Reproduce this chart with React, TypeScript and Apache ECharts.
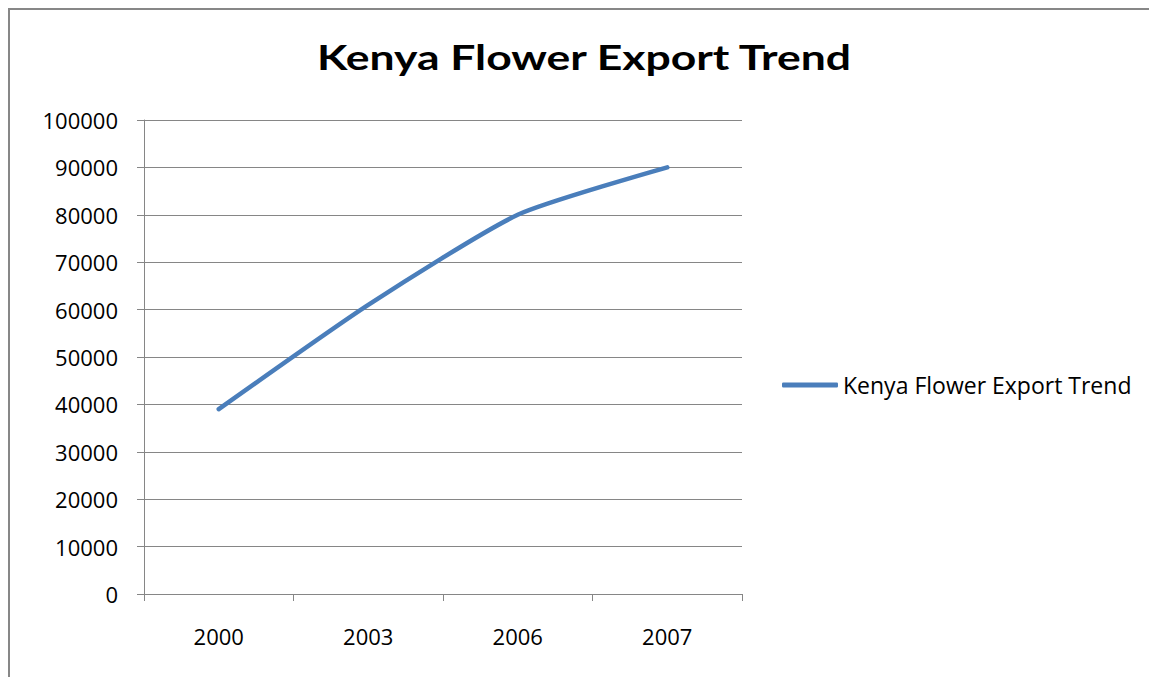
import React, { useEffect, useRef } from "react";
import * as echarts from "echarts";

const years = ["2000", "2003", "2006", "2007"];
const exports = [39000, 61000, 80000, 90000];
const seriesName = "Kenya Flower Export Trend";
const titleText = "Kenya Flower Export Trend";

export default function App() {
  const ref = useRef<HTMLDivElement>(null);
  useEffect(() => {
    document.documentElement.style.overflow = "hidden";
    document.documentElement.style.background = "#fff";
    document.body.style.overflow = "hidden";
    document.body.style.margin = "0";
    document.body.style.background = "#fff";
    const chart = echarts.init(ref.current!, null, { renderer: "svg" });
    const font = "'Open Sans', sans-serif";
    chart.setOption({
      animation: false,
      backgroundColor: "#fff",
      graphic: [
        {
          type: "text",
          x: 574,
          y: 29,
          scaleX: 1.27,
          style: {
            text: titleText,
            fontFamily: "Lato, sans-serif",
            fontWeight: "bold",
            fontSize: 35,
            fill: "#000",
            textAlign: "center",
            textVerticalAlign: "top",
          },
        },
      ],
      legend: {
        data: [seriesName],
        left: 767,
        top: 358,
        itemWidth: 56,
        itemHeight: 5,
        icon: "roundRect",
        textStyle: { fontFamily: font, fontSize: 23, color: "#000", lineHeight: 24 },
      },
      grid: { left: 134, top: 110, width: 598, height: 474, containLabel: false },
      xAxis: {
        type: "category",
        data: years,
        boundaryGap: true,
        axisLine: { show: true, lineStyle: { color: "#868686", width: 1 } },
        axisTick: { show: true, length: 7, interval: 0, lineStyle: { color: "#868686" } },
        axisLabel: { margin: 31, fontFamily: font, fontSize: 22, color: "#000" },
        splitLine: { show: false },
      },
      yAxis: {
        type: "value",
        min: 0,
        max: 100000,
        interval: 10000,
        axisLine: { show: true, lineStyle: { color: "#868686", width: 1 } },
        axisTick: { show: true, length: 7, lineStyle: { color: "#868686" } },
        axisLabel: {
          margin: 26,
          fontFamily: font,
          fontSize: 22,
          color: "#000",
          formatter: (v: number) => String(v),
        },
        splitLine: { show: true, lineStyle: { color: "#868686", width: 1 } },
      },
      series: [
        {
          name: seriesName,
          type: "line",
          data: exports,
          smooth: 0.2,
          showSymbol: false,
          symbol: "none",
          itemStyle: { color: "#4A7EBB" },
          lineStyle: { color: "#4A7EBB", width: 4.5, cap: "round" },
        },
      ],
    });
    return () => chart.dispose();
  }, []);
  return (
    <div
      style={{
        position: "absolute",
        left: 8,
        top: 8,
        width: 1141,
        height: 669,
        boxSizing: "border-box",
        borderLeft: "2px solid #878787",
        borderTop: "2px solid #878787",
        overflow: "hidden",
        background: "#fff",
      }}
    >
      <div ref={ref} style={{ width: 1139, height: 667 }} />
    </div>
  );
}
